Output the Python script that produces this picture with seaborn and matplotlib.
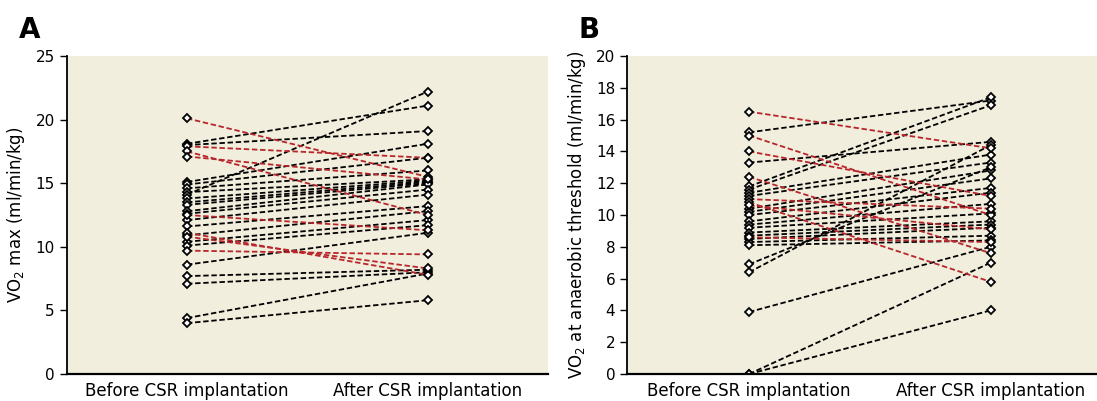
import numpy as np
import pandas as pd
import matplotlib
matplotlib.use("Agg")
import matplotlib.pyplot as plt
import seaborn as sns

# --- data ---
groups = ["Before CSR implantation", "After CSR implantation"]

# Panel A: VO2 max
a_before = [20.1, 18.1, 18.0, 17.9, 17.5, 17.1, 15.1, 14.9, 14.6, 14.3, 14.1, 13.8, 13.5, 13.3, 12.8,
            12.6, 12.5, 12.1, 11.6, 11.1, 10.9, 10.8, 10.4, 10.1, 9.7, 8.6, 7.7, 7.1, 4.4, 4.0]
a_after = [15.5, 21.1, 19.1, 17.0, 12.5, 15.3, 18.1, 17.0, 16.0, 15.3, 22.2, 15.2, 15.1, 15.0, 14.9,
           14.5, 11.3, 14.1, 13.2, 7.8, 12.8, 8.3, 12.1, 11.7, 9.4, 11.1, 8.2, 8.0, 7.9, 5.8]
a_red = [0, 3, 4, 5, 16, 19, 21, 24]

# Panel B: VO2 at anaerobic threshold
b_before = [16.5, 15.2, 15.0, 14.0, 13.3, 12.4, 11.8, 11.6, 11.4, 11.2, 11.0, 10.8, 10.6, 10.4, 10.2,
            10.0, 9.6, 9.4, 9.2, 8.9, 8.7, 8.6, 8.5, 8.3, 8.1, 6.9, 6.4, 3.9, 0.0, 0.0]
b_after = [14.2, 17.2, 10.0, 11.2, 14.6, 7.6, 17.4, 16.9, 13.8, 13.3, 10.4, 5.8, 9.1, 12.8, 12.3,
           11.7, 11.4, 10.7, 10.1, 9.6, 9.4, 8.3, 9.2, 8.7, 8.4, 13.0, 14.4, 8.0, 7.0, 4.0]
b_red = [0, 2, 3, 5, 10, 11, 12, 21]


def to_long(before, after, red):
    rows = []
    for i, (b, a) in enumerate(zip(before, after)):
        kind = "down" if i in red else "up"
        rows.append({"id": i, "pos": 0, "value": b, "kind": kind})
        rows.append({"id": i, "pos": 1, "value": a, "kind": kind})
    return pd.DataFrame(rows)


df_a = to_long(a_before, a_after, a_red)
df_b = to_long(b_before, b_after, b_red)

sns.set_style("ticks")
plt.rcParams["font.family"] = ["DejaVu Sans"]
plt.rcParams["text.color"] = "black"
plt.rcParams["axes.labelcolor"] = "black"
plt.rcParams["xtick.color"] = "black"
plt.rcParams["ytick.color"] = "black"

bg = "#f1eedd"
pal = {"up": "black", "down": "#b8252b"}

fig = plt.figure(figsize=(10.97, 4.01), dpi=100)
ax_a = fig.add_axes([0.0608, 0.0673, 0.4387, 0.793])
ax_b = fig.add_axes([0.5716, 0.0673, 0.4284, 0.793])


def draw(ax, df, ymax, ystep, ylabel, xlim):
    ax.set_facecolor(bg)
    # black first, red on top
    for kind in ["up", "down"]:
        sub = df[df["kind"] == kind]
        sns.lineplot(data=sub, x="pos", y="value", units="id", estimator=None, ax=ax,
                     color=pal[kind], linestyle=(0, (3, 1.5)), linewidth=1.3,
                     marker="D", markersize=4.5, markerfacecolor="white",
                     markeredgecolor="black", markeredgewidth=1.3, legend=False)
    ax.set_xlim(*xlim)
    ax.set_ylim(0, ymax)
    ax.set_yticks(np.arange(0, ymax + 0.1, ystep))
    ax.set_xticks([0, 1])
    ax.set_xticklabels(groups, fontsize=12)
    ax.tick_params(axis="x", length=0, pad=6)
    ax.tick_params(axis="y", labelsize=11, length=5, width=1, direction="out")
    ax.set_xlabel("")
    ax.set_ylabel(ylabel, fontsize=12, labelpad=6)
    for s in ["top", "right"]:
        ax.spines[s].set_visible(False)
    ax.spines["left"].set_linewidth(1.3)
    ax.spines["left"].set_color("black")
    ax.spines["bottom"].set_linewidth(1.6)
    ax.spines["bottom"].set_color("black")


draw(ax_a, df_a, 25, 5, "VO$_2$ max (ml/min/kg)", (-0.5, 1.5))
draw(ax_b, df_b, 20, 2, "VO$_2$ at anaerobic threshold (ml/min/kg)", (-0.505, 1.44))

fig.text(0.017, 0.905, "A", fontsize=20, fontweight="bold", color="black")
fig.text(0.527, 0.905, "B", fontsize=20, fontweight="bold", color="black")

fig.savefig("out.png", dpi=100)
